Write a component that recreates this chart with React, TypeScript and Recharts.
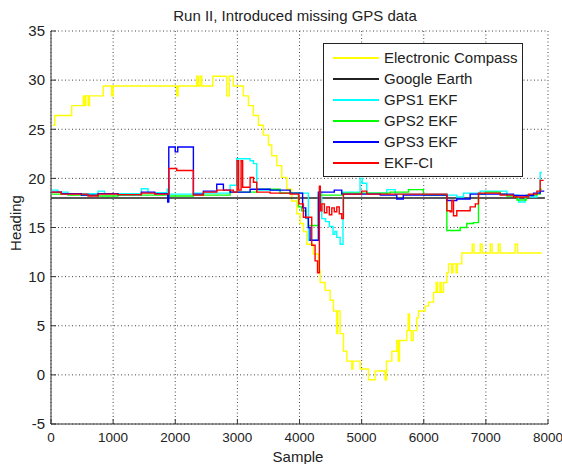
import React from 'react';
import { LineChart, Line, XAxis, YAxis, CartesianGrid } from 'recharts';

const xTicks = [0, 1000, 2000, 3000, 4000, 5000, 6000, 7000, 8000];
const yTicks = [-5, 0, 5, 10, 15, 20, 25, 30, 35];

const compassX = [30, 60, 333, 520, 540, 560, 600, 620, 842, 977, 1000, 2024, 2045, 2346, 2370, 2400, 2427, 2604, 2829, 2870, 2936, 3097, 3178, 3258, 3339, 3419, 3500, 3553, 3634, 3714, 3795, 3875, 3956, 4010, 4063, 4117, 4224, 4304, 4332, 4413, 4493, 4547, 4600, 4615, 4654, 4708, 4762, 4842, 4860, 4976, 5110, 5217, 5378, 5400, 5486, 5566, 5590, 5610, 5727, 5750, 5770, 5800, 5830, 5888, 5915, 6023, 6076, 6157, 6200, 6220, 6260, 6280, 6318, 6372, 6398, 6450, 6470, 6520, 6540, 6613, 6780, 6810, 6910, 6940, 7070, 7100, 7200, 7230, 7470, 7510, 7900];
const compassY = [25.4, 26.4, 27.4, 28.4, 27.4, 28.4, 27.4, 28.4, 29.4, 28.4, 29.4, 28.4, 29.4, 30.4, 29.4, 30.4, 29.4, 30.4, 28.4, 30.4, 29.4, 28.4, 27.4, 26.4, 25.4, 24.4, 23.4, 22.3, 21.3, 20.1, 18.9, 17.7, 16.4, 15.4, 14.6, 13.3, 12.3, 10.6, 9.4, 8.6, 7.6, 6.5, 4.2, 6.5, 4.2, 2.4, 1.4, 0.6, 1.4, 0.6, -0.5, 0.4, -0.5, 1.4, 2.4, 3.5, 1.4, 3.5, 4.5, 6.2, 4.5, 3.5, 4.5, 5.8, 6.5, 7.0, 7.4, 8.4, 9.4, 8.4, 9.4, 8.4, 9.4, 10.4, 11.3, 10.4, 11.3, 10.4, 11.3, 12.4, 13.3, 12.4, 13.3, 12.4, 13.3, 12.4, 13.3, 12.4, 13.3, 12.4, 12.4];

const earthX = [0, 7950];
const earthY = [18, 18];

const gps1X = [10, 110, 274, 757, 860, 1455, 1562, 1870, 1896, 2292, 2883, 2990, 3205, 3260, 3312, 3688, 4143, 4305, 4358, 4420, 4480, 4540, 4570, 4600, 4654, 4700, 4975, 5010, 5083, 5405, 5540, 6372, 6532, 6640, 6908, 7338, 7525, 7633, 7821, 7874, 7900];
const gps1Y = [18.8, 18.6, 18.45, 18.7, 18.45, 18.95, 18.55, 18.9, 18.4, 18.5, 19.3, 22.0, 21.8, 21.5, 18.8, 18.5, 13.7, 18.6, 15.9, 15.6, 15.1, 14.3, 14.6, 14.0, 13.3, 18.6, 20.0, 19.5, 18.5, 18.85, 18.4, 18.3, 18.1, 18.5, 18.7, 18.3, 17.6, 18.1, 18.6, 20.6, 20.6];

const gps2X = [10, 274, 757, 1079, 1896, 2292, 2883, 3312, 3688, 3982, 4036, 4100, 4143, 4305, 4700, 5459, 5754, 5995, 6372, 6586, 6693, 6801, 6881, 6989, 7230, 7338, 7500, 7650, 7821, 7874, 7900];
const gps2Y = [18.4, 18.3, 18.2, 18.3, 18.2, 18.3, 18.6, 18.9, 18.5, 17.1, 16.7, 16.0, 15.2, 18.3, 18.5, 18.6, 18.85, 18.3, 14.7, 15.0, 15.4, 15.5, 18.4, 18.6, 18.4, 18.2, 17.8, 18.3, 18.4, 18.9, 18.9];

const gps3X = [10, 166, 488, 757, 1079, 1455, 1670, 1879, 1896, 2000, 2040, 2292, 2453, 2668, 2775, 2883, 3205, 3527, 3849, 4050, 4100, 4143, 4170, 4305, 4560, 4680, 4975, 5300, 5566, 5670, 6372, 6532, 6747, 7230, 7445, 7767, 7874, 7940];
const gps3Y = [18.6, 18.45, 18.3, 18.45, 18.35, 18.6, 18.45, 17.6, 23.2, 22.7, 23.2, 18.4, 18.7, 19.4, 18.8, 18.6, 18.9, 18.8, 18.5, 17.0, 16.0, 15.0, 13.7, 18.6, 18.8, 18.4, 18.4, 18.3, 17.9, 18.3, 17.75, 17.9, 18.4, 18.4, 18.25, 18.5, 18.7, 18.7];

const ekfciX = [10, 166, 596, 757, 1079, 1455, 1670, 1896, 2024, 2292, 2453, 2668, 2935, 2995, 3020, 3060, 3085, 3205, 3259, 3312, 3527, 3849, 3990, 4063, 4197, 4251, 4290, 4320, 4335, 4360, 4400, 4440, 4480, 4520, 4560, 4600, 4640, 4680, 4707, 5000, 5083, 6372, 6425, 6452, 6479, 6532, 6747, 6830, 6881, 7230, 7445, 7686, 7821, 7874, 7930];
const ekfciY = [18.6, 18.4, 18.2, 18.4, 18.35, 18.5, 18.4, 21.0, 20.8, 18.3, 18.6, 18.8, 18.6, 21.8, 18.8, 21.8, 19.1, 20.1, 19.6, 18.6, 18.5, 18.4, 17.4, 16.05, 13.2, 11.6, 10.4, 19.2, 16.7, 17.4, 16.5, 17.1, 16.3, 17.0, 16.6, 17.1, 16.4, 15.9, 18.4, 18.7, 18.4, 16.7, 16.6, 17.75, 16.2, 16.7, 17.1, 17.4, 18.5, 18.3, 18.1, 18.4, 18.7, 19.8, 19.8];

const seriesNames = ['Electronic Compass', 'Google Earth', 'GPS1 EKF', 'GPS2 EKF', 'GPS3 EKF', 'EKF-CI'];
const seriesColors = ['#ffff00', '#222222', '#00ffff', '#00ff00', '#0000ff', '#ff0000'];
const seriesXs = [compassX, earthX, gps1X, gps2X, gps3X, ekfciX];
const seriesYs = [compassY, earthY, gps1Y, gps2Y, gps3Y, ekfciY];

const toPoints = (xs: number[], ys: number[]) => xs.map((x, i) => ({ x, v: ys[i] }));

const FONT = '"Liberation Sans", Arial, Helvetica, sans-serif';
const TEXT = '#222';

const XTick = (props: any) => {
  const { x, y, payload } = props;
  return (
    <text x={x} y={y} dy="0.355em" textAnchor="middle" fontSize={13.5} fill={TEXT} fontFamily={FONT}>
      {payload.value}
    </text>
  );
};

const YTick = (props: any) => {
  const { x, y, payload } = props;
  return (
    <text x={x} y={y} dy="0.355em" textAnchor="end" fontSize={15} fill={TEXT} fontFamily={FONT}>
      {payload.value}
    </text>
  );
};

export default function App() {
  return (
    <div style={{ position: 'absolute', left: 0, top: 0, width: 562, height: 464, background: '#fff', fontFamily: FONT }}>
      <LineChart width={562} height={464} margin={{ top: 31, right: 14, bottom: 10, left: 0 }}>
        <CartesianGrid stroke="#444" strokeDasharray="1 2.5" />
        <XAxis
          type="number"
          dataKey="x"
          domain={[0, 8000]}
          ticks={xTicks}
          allowDataOverflow
          height={30}
          stroke="#333"
          tickSize={-5}
          tickMargin={18}
          tick={<XTick />}
          interval={0}
        />
        <XAxis
          xAxisId="top"
          orientation="top"
          type="number"
          dataKey="x"
          domain={[0, 8000]}
          ticks={xTicks}
          allowDataOverflow
          height={0}
          stroke="#333"
          tickSize={-5}
          tick={false}
        />
        <YAxis
          type="number"
          domain={[-5, 35]}
          ticks={yTicks}
          allowDataOverflow
          width={51}
          stroke="#333"
          tickSize={-5}
          tickMargin={11}
          tick={<YTick />}
          interval={0}
        />
        <YAxis
          yAxisId="right"
          orientation="right"
          type="number"
          domain={[-5, 35]}
          ticks={yTicks}
          allowDataOverflow
          width={0}
          stroke="#333"
          tickSize={-5}
          tick={false}
        />
        {seriesNames.map((name, i) => (
          <Line
            key={name}
            name={name}
            data={toPoints(seriesXs[i], seriesYs[i])}
            dataKey="v"
            type="stepAfter"
            stroke={seriesColors[i]}
            strokeWidth={1.4}
            dot={false}
            activeDot={false}
            isAnimationActive={false}
          />
        ))}
      </LineChart>

      <div style={{ position: 'absolute', left: 95, width: 400, top: 8, lineHeight: '16px', textAlign: 'center', fontSize: 15, color: TEXT }}>
        Run II, Introduced missing GPS data
      </div>
      <div style={{ position: 'absolute', left: 198, width: 200, top: 449, lineHeight: '16px', textAlign: 'center', fontSize: 15, color: TEXT }}>
        Sample
      </div>
      <div style={{ position: 'absolute', left: 16 - 50, width: 100, top: 223 - 8, lineHeight: '16px', textAlign: 'center', fontSize: 15, color: TEXT, transform: 'rotate(-90deg)' }}>
        Heading
      </div>

      <div style={{ position: 'absolute', left: 323, top: 43, width: 200, height: 134, border: '1px solid #222', background: '#fff', boxSizing: 'border-box' }}>
        {seriesNames.map((name, i) => (
          <React.Fragment key={name}>
            <div style={{ position: 'absolute', left: 9, top: 14 + i * 21 - 1, width: 46, height: 2, background: seriesColors[i] }} />
            <div style={{ position: 'absolute', left: 60, top: 14 + i * 21 - 9, lineHeight: '18px', fontSize: 15, color: TEXT, whiteSpace: 'nowrap' }}>
              {name}
            </div>
          </React.Fragment>
        ))}
      </div>
    </div>
  );
}
